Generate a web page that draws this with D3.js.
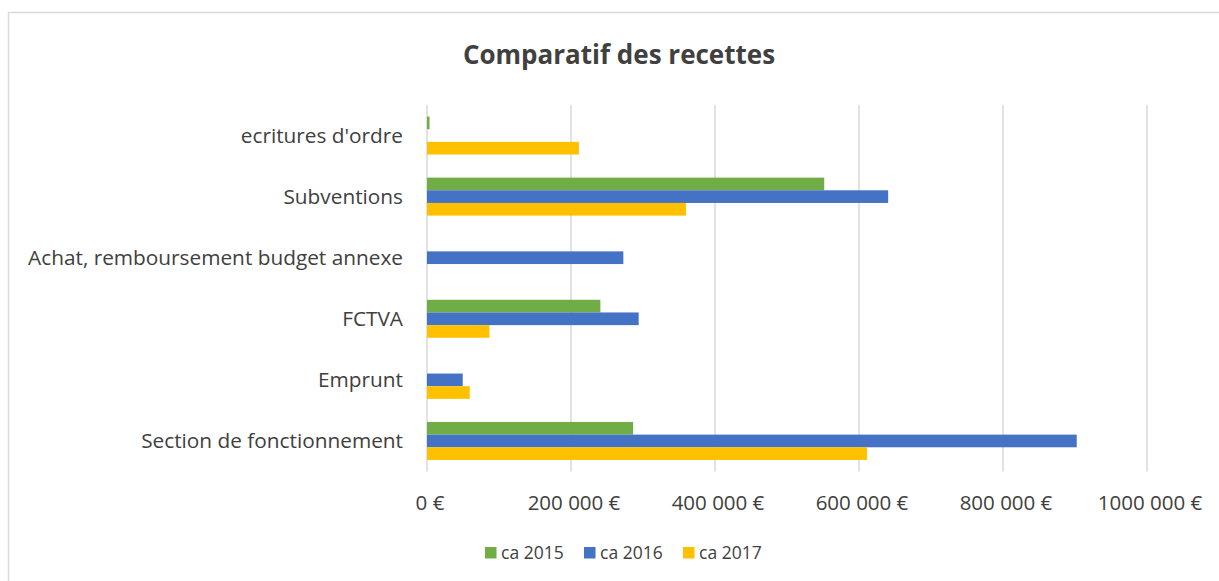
<!DOCTYPE html>
<html>
<head>
<meta charset="utf-8">
<script src="https://cdn.jsdelivr.net/npm/d3@7"></script>
<style>
  body { margin: 0; background: #fff; }
  svg { display: block; font-family: "Open Sans", sans-serif; }
  .grid line { stroke: #d9d9d9; stroke-width: 1.5; }
  .tick-label, .cat-label, .legend-label { fill: #404040; }
</style>
</head>
<body>
<svg id="chart" width="1219" height="581"></svg>
<script>
// --- DATA ---
const categories = ["ecritures d'ordre", "Subventions", "Achat, remboursement budget annexe", "FCTVA", "Emprunt", "Section de fonctionnement"];
const seriesNames = ["ca 2015", "ca 2016", "ca 2017"];
const ca2015 = [3500, 551700, 0, 240800, 0, 286300];
const ca2016 = [0, 640500, 272700, 294000, 49600, 902400];
const ca2017 = [211000, 359700, 0, 86700, 59400, 611100];
const tickValues = [0, 200000, 400000, 600000, 800000, 1000000];
const tickLabels = ["0 €", "200 000 €", "400 000 €", "600 000 €", "800 000 €", "1000 000 €"];
const colors = ["#70AD47", "#4472C4", "#FFC000"];

const seriesValues = [ca2015, ca2016, ca2017];

// --- SETUP ---
const svg = d3.select("#chart");

// chart frame
svg.append("rect")
    .attr("x", 8.5).attr("y", 12.5)
    .attr("width", 1230).attr("height", 600)
    .attr("fill", "none")
    .attr("stroke", "#d9d9d9")
    .attr("stroke-width", 1.5);

svg.append("text")
    .attr("x", 619).attr("y", 64)
    .attr("text-anchor", "middle")
    .attr("font-size", 26)
    .attr("font-weight", "bold")
    .attr("fill", "#404040")
    .text("Comparatif des recettes");

const xScale = d3.scaleLinear().domain([0, 1000000]).range([427, 1147]);
const yScale = d3.scaleBand().domain(categories).range([105, 471.5])
    .paddingInner(0.378).paddingOuter(0.189);
const subScale = d3.scaleBand().domain(seriesNames).range([0, yScale.bandwidth()]);

// gridlines
svg.append("g").attr("class", "grid")
    .selectAll("line")
    .data(tickValues)
    .join("line")
    .attr("x1", d => xScale(d)).attr("x2", d => xScale(d))
    .attr("y1", 105).attr("y2", 471.5);

// tick labels
svg.append("g")
    .selectAll("text")
    .data(tickValues)
    .join("text")
    .attr("class", "tick-label")
    .attr("x", d => xScale(d) + 3)
    .attr("y", 510)
    .attr("text-anchor", "middle")
    .attr("font-size", 20.5)
    .text((d, i) => tickLabels[i]);

// category labels
svg.append("g")
    .selectAll("text")
    .data(categories)
    .join("text")
    .attr("class", "cat-label")
    .attr("x", 403)
    .attr("y", d => yScale(d) + yScale.bandwidth() / 2)
    .attr("dy", "0.35em")
    .attr("text-anchor", "end")
    .attr("font-size", 20.8)
    .text(d => d);

// bars
seriesNames.forEach((s, si) => {
    svg.append("g")
        .selectAll("rect")
        .data(categories.map((c, i) => ({ cat: c, value: seriesValues[si][i] })))
        .join("rect")
        .attr("x", xScale(0))
        .attr("y", d => yScale(d.cat) + subScale(s))
        .attr("width", d => xScale(d.value) - xScale(0))
        .attr("height", subScale.bandwidth())
        .attr("fill", colors[si]);
});

// legend
const legendX = [485, 584, 683];
const legend = svg.append("g")
    .selectAll("g")
    .data(seriesNames)
    .join("g")
    .attr("transform", (d, i) => `translate(${legendX[i]},547)`);

legend.append("rect")
    .attr("width", 11.5).attr("height", 11.5)
    .attr("fill", (d, i) => colors[i]);

legend.append("text")
    .attr("class", "legend-label")
    .attr("x", 16).attr("y", 12)
    .attr("font-size", 17.5)
    .text(d => d);
</script>
</body>
</html>
